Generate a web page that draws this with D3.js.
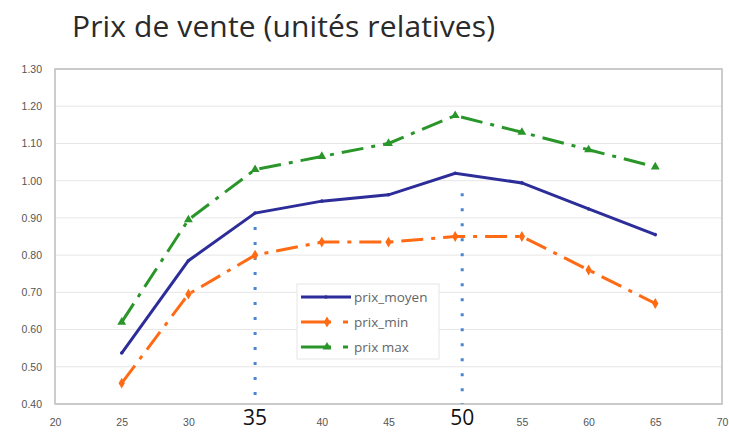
<!DOCTYPE html>
<html>
<head>
<meta charset="utf-8">
<script src="https://cdn.jsdelivr.net/npm/d3@7"></script>
<style>
  body { margin: 0; background: #fff; }
  svg { display: block; font-family: "Open Sans", sans-serif; }
</style>
</head>
<body>
<svg width="729" height="432"></svg>
<script>
// chart data
const ages = [25, 30, 35, 40, 45, 50, 55, 60, 65];
const prixMoyen = [0.537, 0.785, 0.913, 0.945, 0.962, 1.02, 0.994, 0.924, 0.855];
const prixMin = [0.456, 0.695, 0.80, 0.835, 0.835, 0.85, 0.85, 0.76, 0.67];
const prixMax = [0.62, 0.895, 1.03, 1.065, 1.10, 1.175, 1.13, 1.083, 1.037];
const xTicks = [20, 25, 30, 35, 40, 45, 50, 55, 60, 65, 70];
const yTicks = [0.40, 0.50, 0.60, 0.70, 0.80, 0.90, 1.00, 1.10, 1.20, 1.30];
const markedAges = [35, 50];

const margin = { top: 69, right: 7, bottom: 28, left: 55 },
  width = 729 - margin.left - margin.right,
  height = 432 - margin.top - margin.bottom;

const svg = d3.select('svg');

svg.append('text')
  .attr('x', 72)
  .attr('y', 37)
  .attr('font-size', 30)
  .attr('fill', '#2a2a2a')
  .attr('textLength', 423)
  .text('Prix de vente (unités relatives)');

const g = svg.append('g')
  .attr('transform', `translate(${margin.left},${margin.top})`);

const x = d3.scaleLinear().domain([20, 70]).range([0, width]);
const y = d3.scaleLinear().domain([0.4, 1.3]).range([height, 0]);

// grid
g.selectAll('.grid')
  .data(yTicks)
  .enter().append('line')
  .attr('x1', 0).attr('x2', width)
  .attr('y1', d => y(d)).attr('y2', d => y(d))
  .attr('stroke', '#e6e6e6')
  .attr('stroke-width', 1);

g.append('rect')
  .attr('width', width).attr('height', height)
  .attr('fill', 'none')
  .attr('stroke', '#bdbdbd')
  .attr('stroke-width', 1.5);

// axes
const yAxis = g.append('g')
  .call(d3.axisLeft(y).tickValues(yTicks).tickFormat(d3.format('.2f')).tickSize(0).tickPadding(13));
yAxis.select('.domain').remove();
yAxis.selectAll('text').attr('font-size', 10.5).attr('fill', '#555');

const xAxis = g.append('g')
  .attr('transform', `translate(0,${height})`)
  .call(d3.axisBottom(x).tickValues(xTicks.filter(d => !markedAges.includes(d))).tickSize(0).tickPadding(15));
xAxis.select('.domain').remove();
xAxis.selectAll('text').attr('font-size', 10.5).attr('fill', '#555');

// hand-drawn overlay: dotted lines and big labels at 35 and 50
const overlayShift = [0, 7];
const overlayTop = [y(prixMoyen[ages.indexOf(35)]) + 14, y(prixMoyen[ages.indexOf(50)]) + 20];

g.selectAll('.marker-line')
  .data(markedAges)
  .enter().append('line')
  .attr('x1', (d, i) => x(d) + overlayShift[i])
  .attr('x2', (d, i) => x(d) + overlayShift[i])
  .attr('y1', (d, i) => overlayTop[i])
  .attr('y2', height)
  .attr('stroke', '#4a86d0')
  .attr('stroke-width', 3)
  .attr('stroke-dasharray', '3,12');

g.selectAll('.big-label')
  .data(markedAges)
  .enter().append('text')
  .attr('x', (d, i) => x(d) + overlayShift[i])
  .attr('y', height + 21)
  .attr('text-anchor', 'middle')
  .attr('font-size', 21)
  .attr('fill', '#111')
  .text(d => d);

const series = [
  { name: 'prix_moyen', values: prixMoyen, color: '#2d2d9a', dash: null, marker: null },
  { name: 'prix_min', values: prixMin, color: '#ff6a14', dash: '22,8,4,8', marker: 'diamond' },
  { name: 'prix max', values: prixMax, color: '#2a962a', dash: '22,8,4,8', marker: 'triangle' }
];

const line = d3.line()
  .x((d, i) => x(ages[i]))
  .y(d => y(d));

series.forEach(s => {
  g.append('path')
    .datum(s.values)
    .attr('fill', 'none')
    .attr('stroke', s.color)
    .attr('stroke-width', 3)
    .attr('stroke-dasharray', s.dash)
    .attr('d', line);

  const sym = s.marker === 'triangle' ? d3.symbolTriangle : (s.marker === 'diamond' ? d3.symbolDiamond : d3.symbolCircle);
  g.selectAll(null)
    .data(s.values)
    .enter().append('path')
    .attr('transform', (d, i) => `translate(${x(ages[i])},${y(d)})`)
    .attr('d', d3.symbol().type(sym).size(s.marker ? 34 : 10))
    .attr('fill', s.color);
});

// legend
const legend = svg.append('g').attr('transform', 'translate(297,284)');
legend.append('rect')
  .attr('width', 142).attr('height', 75)
  .attr('fill', '#fff')
  .attr('stroke', '#e6e6e6');

series.forEach((s, i) => {
  const row = legend.append('g').attr('transform', `translate(0,${13 + i * 25})`);
  row.append('line')
    .attr('x1', 4).attr('x2', 54)
    .attr('stroke', s.color)
    .attr('stroke-width', 3)
    .attr('stroke-dasharray', s.dash ? '30,12,5,30' : null);
  const sym = s.marker === 'triangle' ? d3.symbolTriangle : (s.marker === 'diamond' ? d3.symbolDiamond : d3.symbolCircle);
  row.append('path')
    .attr('transform', `translate(${s.marker ? 30 : 29},0)`)
    .attr('d', d3.symbol().type(sym).size(s.marker ? 34 : 10))
    .attr('fill', s.color);
  row.append('text')
    .attr('x', 57).attr('y', 4.5)
    .attr('font-size', 13.5)
    .attr('fill', '#666')
    .text(s.name);
});
</script>
</body>
</html>
